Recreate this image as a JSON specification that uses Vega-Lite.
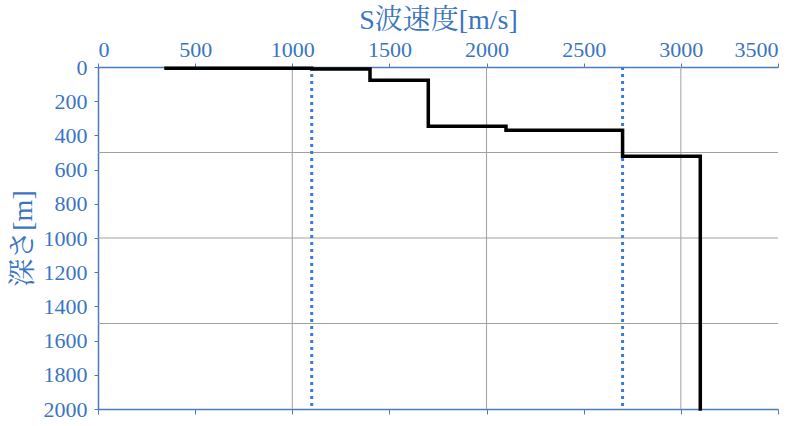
{
  "$schema": "https://vega.github.io/schema/vega-lite/v6.json",
  "autosize": "none",
  "width": 680,
  "height": 342,
  "padding": {"left": 98, "top": 67, "right": 32, "bottom": 17},
  "background": "white",
  "config": {
    "view": {"stroke": null},
    "axis": {
      "labelFont": "Liberation Serif, Times New Roman, serif",
      "labelFontSize": 22,
      "labelColor": "#3a75c4",
      "titleFont": "Liberation Serif, Times New Roman, Noto Serif CJK JP, Noto Sans CJK JP, serif",
      "titleFontSize": 28,
      "titleFontWeight": "normal",
      "titleColor": "#3a75c4",
      "domainColor": "#4a7ebb",
      "domainWidth": 1.5,
      "tickColor": "#4a7ebb",
      "tickSize": 4,
      "grid": false,
      "format": "d"
    }
  },
  "datasets": {
    "profile": [
      {"i": 1, "vs": 350, "depth": 8},
      {"i": 2, "vs": 1100, "depth": 8},
      {"i": 3, "vs": 1100, "depth": 12},
      {"i": 4, "vs": 1400, "depth": 12},
      {"i": 5, "vs": 1400, "depth": 78},
      {"i": 6, "vs": 1700, "depth": 78},
      {"i": 7, "vs": 1700, "depth": 347},
      {"i": 8, "vs": 2100, "depth": 347},
      {"i": 9, "vs": 2100, "depth": 370},
      {"i": 10, "vs": 2700, "depth": 370},
      {"i": 11, "vs": 2700, "depth": 522},
      {"i": 12, "vs": 3100, "depth": 522},
      {"i": 13, "vs": 3100, "depth": 2000}
    ],
    "vgrid": [{"vs": 1000}, {"vs": 2000}, {"vs": 3000}],
    "hgrid": [{"depth": 500}, {"depth": 1000}, {"depth": 1500}],
    "refs": [{"vs": 1100}, {"vs": 2700}]
  },
  "resolve": {"axis": {"x": "independent"}},
  "layer": [
    {
      "data": {"name": "vgrid"},
      "mark": {"type": "rule", "color": "#a0a0a0", "strokeWidth": 1},
      "encoding": {
        "x": {
          "field": "vs", "type": "quantitative",
          "scale": {"domain": [0, 3500], "nice": false},
          "axis": {"orient": "bottom", "labels": false, "title": null, "values": [0, 500, 1000, 1500, 2000, 2500, 3000, 3500], "tickSize": 5}
        }
      }
    },
    {
      "data": {"name": "hgrid"},
      "mark": {"type": "rule", "color": "#a0a0a0", "strokeWidth": 1},
      "encoding": {
        "y": {
          "field": "depth", "type": "quantitative",
          "scale": {"domain": [0, 2000], "reverse": true, "nice": false},
          "axis": {"title": "深さ[m]", "values": [0, 200, 400, 600, 800, 1000, 1200, 1400, 1600, 1800, 2000], "labelPadding": 7, "titlePadding": 6}
        }
      }
    },
    {
      "data": {"name": "refs"},
      "mark": {"type": "rule", "color": "#3a7bd9", "strokeWidth": 3, "strokeDash": [3, 4]},
      "encoding": {
        "x": {"field": "vs", "type": "quantitative", "axis": null}
      }
    },
    {
      "data": {"name": "profile"},
      "mark": {"type": "line", "color": "black", "strokeWidth": 3.5, "interpolate": "linear", "strokeCap": "square"},
      "encoding": {
        "x": {
          "field": "vs", "type": "quantitative",
          "scale": {"domain": [0, 3500], "nice": false},
          "axis": {"orient": "top", "title": "S波速度[m/s]", "values": [0, 500, 1000, 1500, 2000, 2500, 3000, 3500], "labelPadding": 2, "titlePadding": 4}
        },
        "y": {
          "field": "depth", "type": "quantitative",
          "scale": {"domain": [0, 2000], "reverse": true, "nice": false},
          "axis": {"title": "深さ[m]", "values": [0, 200, 400, 600, 800, 1000, 1200, 1400, 1600, 1800, 2000], "labelPadding": 7, "titlePadding": 6}
        },
        "order": {"field": "i", "type": "quantitative"}
      }
    }
  ]
}
